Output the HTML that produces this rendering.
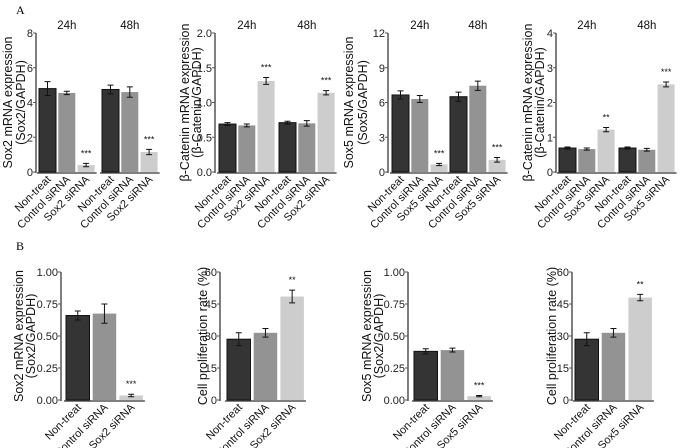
<!DOCTYPE html>
<html><head><meta charset="utf-8"><style>
html,body{margin:0;padding:0;background:#fff;}
svg{display:block;font-family:"Liberation Sans",Arial,sans-serif;}
</style></head><body>
<svg id="fig" width="680" height="448" viewBox="0 0 680 448" xmlns="http://www.w3.org/2000/svg">
<text x="16" y="14" font-family="Liberation Serif,serif" font-size="12">A</text>
<text x="16" y="250" font-family="Liberation Serif,serif" font-size="12">B</text>
</svg>
<script>
const NS="http://www.w3.org/2000/svg";
const svg=document.getElementById('fig');
const colors=['#343434','#939393','#cdcdcd'];

// ---- Data ----
const a1Cats=['Non-treat','Control siRNA','Sox2 siRNA'];
const a1Vals24=[4.8,4.55,0.4];const a1Err24=[0.4,0.1,0.1];
const a1Vals48=[4.75,4.6,1.15];const a1Err48=[0.25,0.3,0.15];
const a1Ticks=['0','2','4','6','8'];const a1Sig=['','','***','','','***'];
const a2Vals24=[0.69,0.67,1.31];const a2Err24=[0.02,0.02,0.05];
const a2Vals48=[0.71,0.70,1.14];const a2Err48=[0.02,0.04,0.03];
const a2Ticks=['0.0','0.5','1.0','1.5','2.0'];const a2Sig=['','','***','','','***'];
const a3Cats=['Non-treat','Control siRNA','Sox5 siRNA'];
const a3Vals24=[6.65,6.3,0.65];const a3Err24=[0.35,0.3,0.1];
const a3Vals48=[6.5,7.45,1.05];const a3Err48=[0.4,0.4,0.2];
const a3Ticks=['0','3','6','9','12'];const a3Sig=['','','***','','','***'];
const a4Vals24=[0.69,0.66,1.22];const a4Err24=[0.03,0.03,0.06];
const a4Vals48=[0.69,0.64,2.52];const a4Err48=[0.03,0.04,0.07];
const a4Ticks=['0','1','2','3','4'];const a4Sig=['','','**','','','***'];
const facets=['24h','48h'];
const b1Vals=[0.66,0.675,0.035];const b1Err=[0.035,0.075,0.01];const b1Ticks=['0.00','0.25','0.50','0.75','1.00'];const b1Sig=['','','***'];
const b2Vals=[28.5,31.5,48.5];const b2Err=[3,2,3];const b2Ticks=['0','15','30','45','60'];const b2Sig=['','','**'];
const b3Vals=[0.38,0.39,0.03];const b3Err=[0.02,0.015,0.005];const b3Sig=['','','***'];
const b4Vals=[28.5,31.5,48];const b4Err=[3,2,1.5];const b4Sig=['','','**'];

function el(tag,attrs,parent){const e=document.createElementNS(NS,tag);for(const k in attrs)e.setAttribute(k,attrs[k]);(parent||svg).appendChild(e);return e;}
function txt(s,attrs,parent){const e=el('text',attrs,parent);e.textContent=s;return e;}

function panel(o){
  const g=el('g',{});
  
  
  const max=parseFloat(o.ticks[o.ticks.length-1]);
  const y=v=>o.y0-(v/max)*(o.y0-o.yTop);
  const ax=el('line',{x1:o.ax,x2:o.ax,y1:o.yTop,y2:o.y0+1,stroke:'#555','stroke-width':1.5},g);
  
  o.ticks.forEach((t,i)=>{
    const v=parseFloat(t);
    el('line',{x1:o.ax-3,x2:o.ax,y1:y(v),y2:y(v),stroke:'#555'},g);
    const tl=txt(t,{x:o.ax-3,y:y(v)+4,'text-anchor':'end','font-size':11,fill:'#222'},g);
    
  });
  const cy=(o.yTop+o.y0)/2;
  o.title.forEach((line,i)=>{
    const tt=txt(line,{x:o.titleX[i],y:cy,'text-anchor':'middle','font-size':12.5,fill:'#111',transform:`rotate(-90 ${o.titleX[i]} ${cy})`},g);
    
  });
  o.groups.forEach((grp,gi)=>{
    const gx=o.gStart[gi];
    const xl=el('line',{x1:gx-2,x2:gx+o.step*2+o.bw+2,y1:o.y0+1,y2:o.y0+1,stroke:'#555','stroke-width':1.5},g);
    
    if(o.facets){
      const ft=txt(o.facets[gi],{x:gx+o.step+o.bw/2,y:o.yTop-4,'text-anchor':'middle','font-size':11.5,fill:'#111'},g);
      
    }
    grp.vals.forEach((v,i)=>{
      const bx=gx+i*o.step, cx=bx+o.bw/2;
      const r=el('rect',{x:bx,y:y(v),width:o.bw,height:o.y0-y(v),fill:colors[i],stroke:i==0?'#111':'none','stroke-width':1},g);
      
      const e=grp.err[i];
      const eb=el('path',{d:`M${cx-3},${y(v+e)}H${cx+3}M${cx},${y(v+e)}V${y(v-e)}M${cx-3},${y(v-e)}H${cx+3}`,stroke:'#111','stroke-width':1,fill:'none'},g);
      
      const s=grp.sig[i];
      if(s){const st=txt(s,{x:cx,y:y(v+e)-7,'text-anchor':'middle','font-size':9,fill:'#111'},g);
        }
      const lx=cx+4, ly=o.y0+8;
      const xt=txt(o.cats[i],{x:lx,y:ly,'text-anchor':'end','font-size':11,fill:'#111',transform:`rotate(-45 ${lx} ${ly})`},g);
      
    });
  });
}
const aCommon={yTop:33,y0:172,bw:17,step:19.3,facets:facets};
panel(Object.assign({name:'chart-sox2-24-48h',ax:36,gStart:[39,102],cats:a1Cats,ticks:a1Ticks,title:['Sox2 mRNA expression','(Sox2/GAPDH)'],titleX:[12,25],
 groups:[{vals:a1Vals24,err:a1Err24,sig:a1Sig.slice(0,3)},{vals:a1Vals48,err:a1Err48,sig:a1Sig.slice(3)}]},aCommon));
panel(Object.assign({name:'chart-bcatenin-sox2',ax:215,gStart:[219,279],cats:a1Cats,ticks:a2Ticks,title:['β-Catenin mRNA expression','(β-Catenin/GAPDH)'],titleX:[189,201],
 groups:[{vals:a2Vals24,err:a2Err24,sig:a2Sig.slice(0,3)},{vals:a2Vals48,err:a2Err48,sig:a2Sig.slice(3)}]},aCommon));
panel(Object.assign({name:'chart-sox5-24-48h',ax:388,gStart:[392,450],cats:a3Cats,ticks:a3Ticks,title:['Sox5 mRNA expression','(Sox5/GAPDH)'],titleX:[353,367],
 groups:[{vals:a3Vals24,err:a3Err24,sig:a3Sig.slice(0,3)},{vals:a3Vals48,err:a3Err48,sig:a3Sig.slice(3)}]},aCommon));
panel(Object.assign({name:'chart-bcatenin-sox5',ax:556,gStart:[559,619],cats:a3Cats,ticks:a4Ticks,title:['β-Catenin mRNA expression','(β-Catenin/GAPDH)'],titleX:[532,544],
 groups:[{vals:a4Vals24,err:a4Err24,sig:a4Sig.slice(0,3)},{vals:a4Vals48,err:a4Err48,sig:a4Sig.slice(3)}]},aCommon));
const bCommon={yTop:272,y0:400,bw:23.5,step:26.7};
panel(Object.assign({name:'chart-sox2-expression-b',ax:61,gStart:[66],cats:a1Cats,ticks:b1Ticks,title:['Sox2 mRNA expression','(Sox2/GAPDH)'],titleX:[23,35],
 groups:[{vals:b1Vals,err:b1Err,sig:b1Sig}]},bCommon));
panel(Object.assign({name:'chart-proliferation-sox2',ax:220,gStart:[227],cats:a1Cats,ticks:b2Ticks,title:['Cell proliferation rate (%)'],titleX:[207],
 groups:[{vals:b2Vals,err:b2Err,sig:b2Sig}]},bCommon));
panel(Object.assign({name:'chart-sox5-expression-b',ax:408,gStart:[414],cats:a3Cats,ticks:b1Ticks,title:['Sox5 mRNA expression','(Sox2/GAPDH)'],titleX:[371,383],
 groups:[{vals:b3Vals,err:b3Err,sig:b3Sig}]},bCommon));
panel(Object.assign({name:'chart-proliferation-sox5',ax:572,gStart:[575],cats:a3Cats,ticks:b2Ticks,title:['Cell proliferation rate (%)'],titleX:[556],
 groups:[{vals:b4Vals,err:b4Err,sig:b4Sig}]},bCommon));
</script>
</body></html>
